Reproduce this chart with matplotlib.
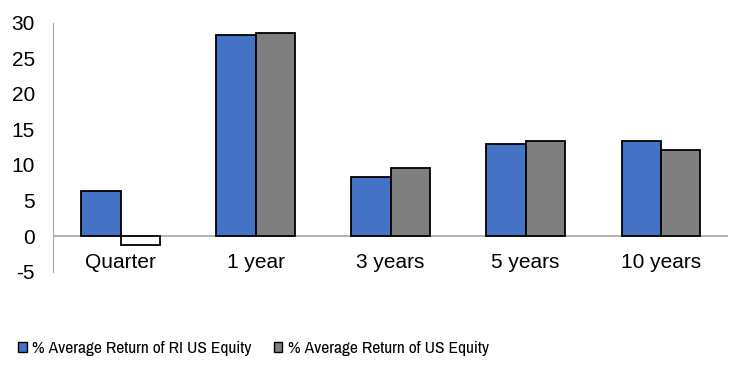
import matplotlib.pyplot as plt
import matplotlib.font_manager as fm
from matplotlib.patches import Patch

categories = ["Quarter", "1 year", "3 years", "5 years", "10 years"]
ri_us_equity = [6.4, 28.3, 8.3, 13.0, 13.3]
us_equity = [-1.3, 28.5, 9.5, 13.3, 12.1]
series_labels = ["% Average Return of RI US Equity", "% Average Return of US Equity"]
yticks = [-5, 0, 5, 10, 15, 20, 25, 30]

BLUE = "#4472C4"
GRAY = "#7F7F7F"

plt.rcParams["font.family"] = ["Liberation Sans", "DejaVu Sans"]

# the legend in the original uses a narrow face; take one if there is any
narrow = None
for f in fm.fontManager.ttflist:
    if ("Narrow" in f.name or "Condensed" in f.name) and f.style == "normal":
        narrow = fm.FontProperties(fname=f.fname, size=12.5)
        break
if narrow is None:
    for f in fm.fontManager.ttflist:
        if f.stretch in ("condensed", "semi-condensed", 600, 700) and f.style == "normal" \
                and f.weight in ("normal", 400, "regular"):
            narrow = fm.FontProperties(fname=f.fname, size=12.5)
            break
if narrow is None:
    narrow = fm.FontProperties(family="Liberation Sans", size=10.5)

fig = plt.figure(figsize=(7.42, 3.72), dpi=100)
ax = fig.add_axes([0.0714, 0.270, 0.910, 0.669])

width = 0.29
x = list(range(len(categories)))
ax.bar([i - width / 2 for i in x], ri_us_equity, width, color=BLUE,
       edgecolor="black", linewidth=1.3, zorder=3)
us_colors = [GRAY if v >= 0 else "white" for v in us_equity]
ax.bar([i + width / 2 for i in x], us_equity, width, color=us_colors,
       edgecolor="black", linewidth=1.3, zorder=3)

ax.set_xlim(-0.5, len(categories) - 0.5)
ax.set_ylim(-5, 30)
ax.set_yticks(yticks)
ax.set_yticklabels([str(t) for t in yticks], fontsize=15)
ax.tick_params(axis="y", length=0, pad=13)
ax.set_xticks([])
for side in ["top", "right", "bottom"]:
    ax.spines[side].set_visible(False)
ax.spines["left"].set_color("#A6A6A6")
ax.axhline(0, color="#A6A6A6", linewidth=1.2, zorder=2)

for i, lab in enumerate(categories):
    ax.text(i, -3.75, lab, ha="center", va="center", fontsize=15)

handles = [Patch(facecolor=BLUE, edgecolor="black", linewidth=1.0),
           Patch(facecolor=GRAY, edgecolor="black", linewidth=1.0)]
fig.legend(handles, series_labels, loc="center left", bbox_to_anchor=(0.003, 0.062),
           ncol=2, frameon=False, handlelength=0.5, handleheight=0.5,
           handletextpad=0.3, columnspacing=1.3, prop=narrow)

fig.savefig("out.png", dpi=100)
